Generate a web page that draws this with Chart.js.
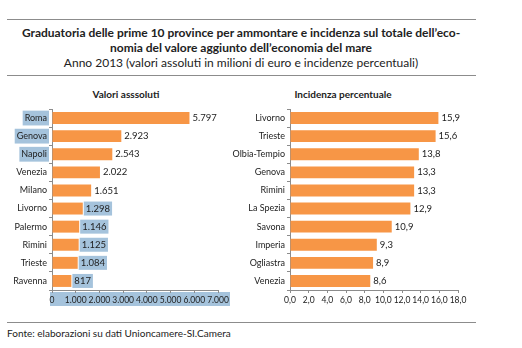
<!DOCTYPE html>
<html>
<head>
<meta charset="utf-8">
<script src="https://cdn.jsdelivr.net/npm/chart.js@4"></script>
<style>
  html, body { margin: 0; padding: 0; background: #fff; }
  #page { position: relative; width: 522px; height: 348px; font-family: Lato, "Open Sans", sans-serif; color: #222; }
  .rule { position: absolute; left: 7px; width: 469px; height: 0; border-top: 1px solid #8c8c8c; }
  .title { position: absolute; left: 0; width: 482px; text-align: center; font-size: 12px; line-height: 15px; }
  .sub { position: absolute; top: 88px; font-size: 10px; font-weight: bold; text-align: center; }
  .box { position: absolute; }
</style>
</head>
<body>
<div id="page">
  <div class="rule" style="top:19px"></div>
  <div class="title" style="top:25px;font-weight:bold">Graduatoria delle prime 10 province per ammontare e incidenza sul totale dell’eco-<br>nomia del valore aggiunto dell’economia del mare</div>
  <div class="title" style="top:55px">Anno 2013 (valori assoluti in milioni di euro e incidenze percentuali)</div>
  <div class="rule" style="top:75px"></div>

  <div class="sub" style="left:66px;width:120px">Valori asssoluti</div>
  <div class="sub" style="left:273px;width:140px">Incidenza percentuale</div>

  <div class="box" style="left:0;top:100px;width:240px;height:212px"><canvas id="left"></canvas></div>
  <div class="box" style="left:225px;top:100px;width:255px;height:212px"><canvas id="right"></canvas></div>

  <div class="rule" style="top:322px"></div>
  <div style="position:absolute;left:7px;top:327px;font-size:10px">Fonte: elaborazioni su dati Unioncamere-SI.Camera</div>
</div>

<script>
const absProvinces = ['Roma', 'Genova', 'Napoli', 'Venezia', 'Milano', 'Livorno', 'Palermo', 'Rimini', 'Trieste', 'Ravenna'];
const absValues = [5797, 2923, 2543, 2022, 1651, 1298, 1146, 1125, 1084, 817];
const absTicksMax = 7000;

const pctProvinces = ['Livorno', 'Trieste', 'Olbia-Tempio', 'Genova', 'Rimini', 'La Spezia', 'Savona', 'Imperia', 'Ogliastra', 'Venezia'];
const pctValues = [15.9, 15.6, 13.8, 13.3, 13.3, 12.9, 10.9, 9.3, 8.9, 8.6];
const pctTicksMax = 18;

const orange = '#f79646';
const highlight = '#a5c3dc';
const font = "Lato, 'Open Sans', sans-serif";

Chart.defaults.font.family = font;
Chart.defaults.color = '#222';

function itThousands(v) {
  return String(Math.round(v)).replace(/\B(?=(\d{3})+(?!\d))/g, '.');
}
function itDecimal(v) {
  return v.toFixed(1).replace('.', ',');
}

// labels at bar ends, optionally with a blue highlight box
function valueLabels(fmt, marked) {
  return {
    id: 'valueLabels',
    afterDatasetsDraw(chart) {
      const ctx = chart.ctx;
      const meta = chart.getDatasetMeta(0);
      ctx.save();
      ctx.font = '9.5px ' + font;
      ctx.textBaseline = 'middle';
      meta.data.forEach((bar, i) => {
        const txt = fmt(chart.data.datasets[0].data[i]);
        const x = bar.x + 3;
        const w = ctx.measureText(txt).width;
        if (marked(i)) {
          ctx.fillStyle = highlight;
          ctx.fillRect(x - 2, bar.y - 7, w + 4, 14);
        }
        ctx.fillStyle = '#222';
        ctx.fillText(txt, x, bar.y);
      });
      ctx.restore();
    }
  };
}

// blue band behind the left x axis labels
const axisBand = {
  id: 'axisBand',
  beforeDraw(chart) {
    const x = chart.scales.x;
    const ctx = chart.ctx;
    ctx.save();
    ctx.fillStyle = highlight;
    ctx.fillRect(x.left - 2, x.top + 2, x.width + 14, 14);
    ctx.restore();
  }
};

function makeChart(id, labels, values, max, step, fmtTick, yWidth, padRight, plugins, yBackdrop) {
  return new Chart(document.getElementById(id), {
    type: 'bar',
    data: {
      labels: labels,
      datasets: [{
        data: values,
        backgroundColor: orange,
        barPercentage: 0.66,
        categoryPercentage: 1
      }]
    },
    options: {
      indexAxis: 'y',
      responsive: true,
      maintainAspectRatio: false,
      animation: false,
      layout: { padding: { top: 9, right: padRight, left: 0, bottom: 0 } },
      plugins: { legend: { display: false }, tooltip: { enabled: false } },
      scales: {
        x: {
          min: 0,
          max: max,
          afterFit: s => { s.height = 22; },
          border: { color: '#8c8c8c' },
          grid: { drawOnChartArea: false, tickLength: 3, color: '#8c8c8c' },
          ticks: {
            stepSize: step,
            maxRotation: 0,
            autoSkip: false,
            padding: 2,
            color: '#222',
            font: { size: 8.5 },
            callback: v => fmtTick(v)
          }
        },
        y: {
          afterFit: s => { s.width = yWidth; },
          border: { color: '#8c8c8c' },
          grid: { drawOnChartArea: false, tickLength: 3, color: '#8c8c8c' },
          ticks: {
            padding: 2,
            color: '#222',
            font: { size: 9 },
            showLabelBackdrop: c => yBackdrop(c.index),
            backdropColor: highlight,
            backdropPadding: { top: 2, bottom: 2, left: 2, right: 2 }
          }
        }
      }
    },
    plugins: plugins
  });
}

makeChart('left', absProvinces, absValues, absTicksMax, 1000, itThousands, 52, 22,
  [axisBand, valueLabels(itThousands, i => i >= 5)], i => i < 3);

makeChart('right', pctProvinces, pctValues, pctTicksMax, 2, itDecimal, 65, 22,
  [valueLabels(itDecimal, () => false)], () => false);
</script>
</body>
</html>
